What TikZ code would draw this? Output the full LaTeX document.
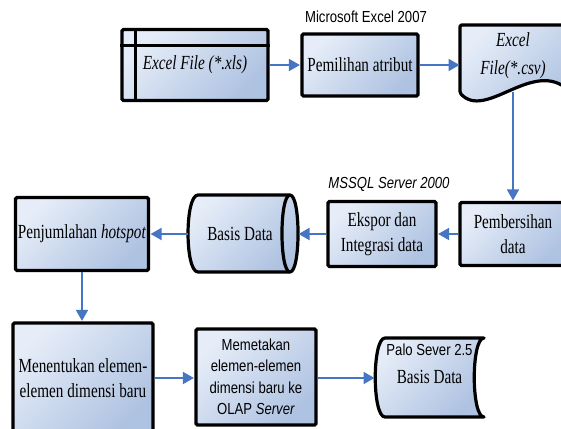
\documentclass[tikz,border=0pt]{standalone}
\usepackage{fontspec}
\setmainfont{Liberation Serif}[FakeStretch=0.76]
\newfontfamily\arialf{Liberation Sans}[FakeStretch=0.82]
\usetikzlibrary{arrows.meta,calc}
\definecolor{lightc}{RGB}{230,237,248}
\definecolor{darkc}{RGB}{174,194,225}
\definecolor{arrowc}{RGB}{70,118,195}
\tikzset{
  boxfill/.style={top color=lightc, bottom color=darkc, shading angle=45},
  proc/.style={boxfill, draw=black, line width=3.2pt, rounded corners=1.5pt, inner sep=0pt, align=center,
    font=\fontsize{20}{25}\selectfont},
  shapebox/.style={boxfill, draw=black, line width=3.2pt, line join=round},
  txt/.style={inner sep=0pt, align=center, font=\fontsize{20}{25}\selectfont},
  sanslabel/.style={inner sep=0pt, font=\arialf\fontsize{16}{18}\selectfont},
  arr/.style={draw=arrowc, line width=1.8pt, -{Triangle[length=11pt,width=12pt]}, shorten >=0.5pt}
}
\begin{document}
\begin{tikzpicture}[x=1pt,y=-1pt]
\useasboundingbox (0,0) rectangle (561,428);

% Excel xls file
\node[proc, minimum width=146pt, minimum height=71pt] (xls) at (195,65) {\itshape Excel File (*.xls)};
\draw[line width=2.8pt] ([xshift=15pt]xls.north west) -- ([xshift=15pt]xls.south west);
\draw[line width=2.8pt] ([yshift=-18pt]xls.north west) -- ([yshift=-18pt]xls.north east);

% Pemilihan atribut
\node[proc, minimum width=116pt, minimum height=62pt] (pemil) at (360,65) {Pemilihan atribut};
\node[sanslabel] (mslabel) at (366,17) {Microsoft Excel 2007};

% Excel csv document
\path[shapebox, rounded corners=1.5pt] (460,25) -- (566,25) -- (566,88)
   .. controls (530,62) and (485,120) .. (460,93) -- cycle;
\node[txt, font=\itshape\fontsize{20}{28}\selectfont] (csv) at (513,56) {Excel\\File(*.csv)};
\coordinate (csvW) at (460,65);
\coordinate (csvB) at (513,92);

% Pembersihan data
\node[proc, minimum width=106pt, minimum height=63pt] (pemb) at (513,234) {Pembersihan\\data};

% Ekspor
\node[proc, minimum width=108pt, minimum height=65pt] (ekspor) at (382,234) {Ekspor dan\\Integrasi data};
\node[sanslabel, font=\arialf\itshape\fontsize{16}{18}\selectfont] (mssql) at (389,184) {MSSQL Server 2000};

% Basis Data cylinder
\path[shapebox] (198,195) -- (290,195) .. controls (300.7,195) and (300.7,272) .. (290,272)
   -- (198,272) .. controls (184.7,272) and (184.7,195) .. (198,195) -- cycle;
\draw[line width=3.2pt] (290,195) .. controls (279.3,195) and (279.3,272) .. (290,272);
\node[txt, minimum width=110pt, minimum height=77pt] (basis) at (240,234) {Basis Data};
\coordinate (basisE) at (298,234);
\coordinate (basisW) at (188,234);

% Penjumlahan hotspot
\node[proc, minimum width=133pt, minimum height=73pt] (penj) at (82,234) {Penjumlahan \textit{hotspot}};

% Menentukan
\node[proc, minimum width=140pt, minimum height=111pt] (menen) at (83,378.5) {Menentukan elemen-\\elemen dimensi baru};

% Memetakan
\node[proc, minimum width=120pt, minimum height=96pt, font=\arialf\fontsize{16}{21.5}\selectfont] (memet) at (256,377)
  {Memetakan\\elemen-elemen\\dimensi baru ke\\OLAP \textit{Server}};

% Palo stored data
\path[shapebox] (385,338) -- (484,338) .. controls (471,338) and (471,417) .. (484,417)
   -- (385,417) .. controls (372,417) and (372,338) .. (385,338) -- cycle;
\node[txt, font=\fontsize{20}{28}\selectfont] (palo) at (429.5,364)
  {{\arialf\fontsize{16}{28}\selectfont Palo Sever 2.5}\\Basis Data};
\coordinate (paloW) at (375,378);

% Connectors
\draw[arr] (xls.east) -- (pemil.west);
\draw[arr] (pemil.east) -- (csvW);
\draw[arr] (csvB) -- (csvB |- pemb.north);
\draw[arr] (pemb.west) -- (ekspor.east);
\draw[arr] (ekspor.west) -- (basisE);
\draw[arr] (basisW) -- (penj.east);
\draw[arr] (penj.south) -- (penj.south |- menen.north);
\draw[arr] (menen.east |- paloW) -- (memet.west |- paloW);
\draw[arr] (memet.east |- paloW) -- (paloW);
\end{tikzpicture}
\end{document}
